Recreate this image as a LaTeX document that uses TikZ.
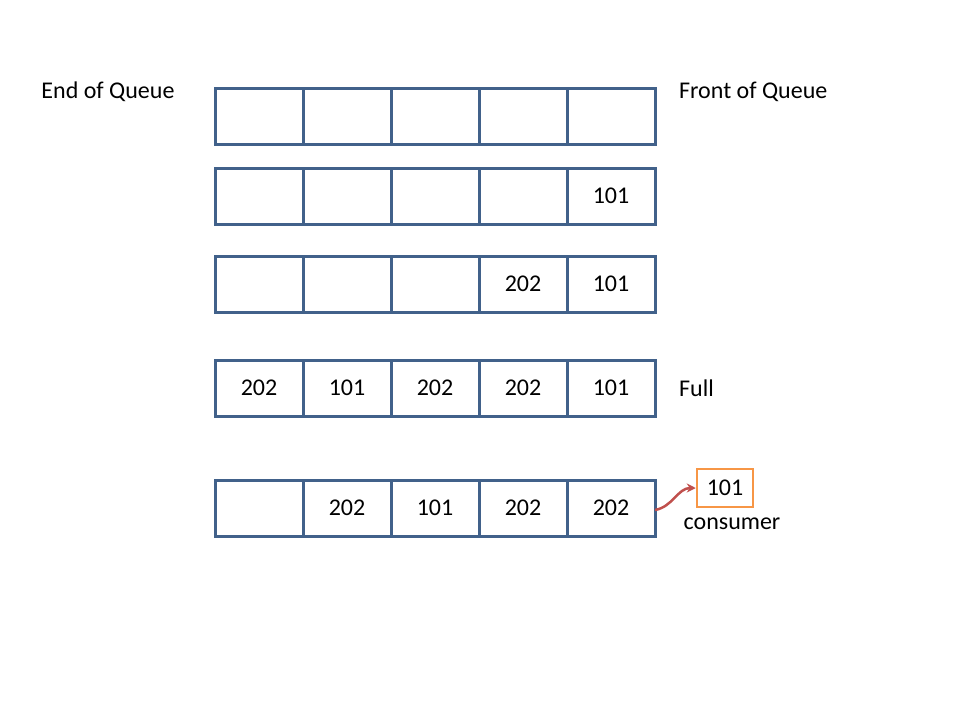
\documentclass[tikz,border=0pt]{standalone}
\usepackage{fontspec}
\setmainfont{Carlito}
\usetikzlibrary{positioning,arrows.meta}
\definecolor{qblue}{HTML}{41618A}
\definecolor{qorange}{HTML}{F79646}
\definecolor{qred}{HTML}{C0504D}

\begin{document}
\begin{tikzpicture}[x=1pt, y=-1pt, node distance=0pt,
  font=\fontsize{24}{28}\selectfont]
  \tikzstyle{cell}=[rectangle, draw=qblue, line width=3pt, outer sep=0pt,
    minimum width=88pt, minimum height=56pt, inner sep=0pt]
  \tikzstyle{lbl}=[anchor=west, inner sep=0pt]
  \useasboundingbox (0,0) rectangle (960,720);

  % row 1: empty
  \node[cell] (a1) at (259,116) {};
  \node[cell, right=of a1] (a2) {};
  \node[cell, right=of a2] (a3) {};
  \node[cell, right=of a3] (a4) {};
  \node[cell, right=of a4] (a5) {};

  % row 2
  \node[cell, below=24pt of a1] (b1) {};
  \node[cell, right=of b1] (b2) {};
  \node[cell, right=of b2] (b3) {};
  \node[cell, right=of b3] (b4) {};
  \node[cell, right=of b4] (b5) {101};

  % row 3
  \node[cell, below=32pt of b1] (c1) {};
  \node[cell, right=of c1] (c2) {};
  \node[cell, right=of c2] (c3) {};
  \node[cell, right=of c3] (c4) {202};
  \node[cell, right=of c4] (c5) {101};

  % row 4: full
  \node[cell, below=48pt of c1] (d1) {202};
  \node[cell, right=of d1] (d2) {101};
  \node[cell, right=of d2] (d3) {202};
  \node[cell, right=of d3] (d4) {202};
  \node[cell, right=of d4] (d5) {101};

  % row 5
  \node[cell, below=64pt of d1] (e1) {};
  \node[cell, right=of e1] (e2) {202};
  \node[cell, right=of e2] (e3) {101};
  \node[cell, right=of e3] (e4) {202};
  \node[cell, right=of e4] (e5) {202};

  \node[inner sep=0pt] (endq) at (108,92) {End of Queue};
  \node[lbl] (frontq) at (679,92) {Front of Queue};
  \node[lbl] (full) at (679,388) {Full};

  \node[draw=qorange, line width=2.5pt, minimum width=56pt, minimum height=38pt,
    inner sep=0pt] (cons) at (725,488) {101};
  \node[inner sep=0pt] (conslbl) at (732,524) {consumer};

  \draw[qred, line width=2.5pt, -{Stealth[length=9pt,width=9pt]}]
    ([yshift=-2pt]e5.east) to[out=10, in=180] (cons.west);
\end{tikzpicture}
\end{document}
